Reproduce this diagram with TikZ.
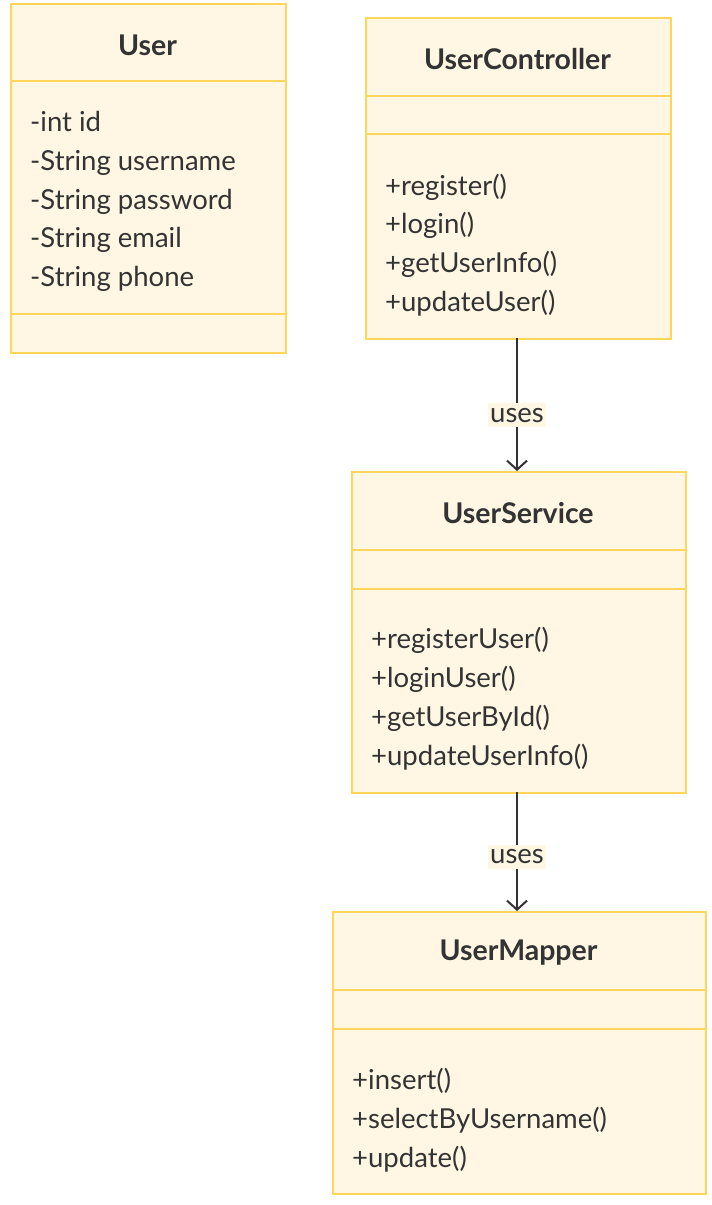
\documentclass[tikz,border=0pt]{standalone}
\usepackage{fontspec}
\setmainfont{Lato}
\usetikzlibrary{arrows.meta}

\definecolor{boxfill}{HTML}{FFF7E3}
\definecolor{boxline}{HTML}{FFD55A}
\definecolor{ink}{HTML}{333333}

\begin{document}
\begin{tikzpicture}[x=1pt, y=-1pt, text=ink,
  font=\fontsize{27.5}{38.8}\selectfont,
  part/.style={draw=boxline, fill=boxfill, line width=1.6pt, rectangle,
    inner sep=0, anchor=north west},
  title/.style={font=\fontsize{28.5}{32}\selectfont\bfseries},
  members/.style={anchor=west, align=left, inner sep=0},
  uses/.style={draw=ink, line width=1.8pt, -{Straight Barb[length=9pt, width=20pt, line width=2pt]}},
  tag/.style={fill=boxfill, inner xsep=2pt, inner ysep=5pt}]

\useasboundingbox (0,0) rectangle (712,1205);

% ---- User ----
\node[part, minimum width=275pt, minimum height=77pt]  (user-name) at (10,3)   {};
\node[part, minimum width=275pt, minimum height=233pt] (user-attr) at (10,80)  {};
\node[part, minimum width=275pt, minimum height=39pt]  (user-ops)  at (10,313) {};
\node[title] (user-title) at (147.5,45) {User};
\node[members] (user-list) at (30,201.5)
  {-int id\\-String username\\-String password\\-String email\\-String phone};

% ---- UserController ----
\node[part, minimum width=305pt, minimum height=78pt]  (ctrl-name) at (365,17)  {};
\node[part, minimum width=305pt, minimum height=38pt]  (ctrl-attr) at (365,95)  {};
\node[part, minimum width=305pt, minimum height=205pt] (ctrl-ops)  at (365,133) {};
\node[title] (ctrl-title) at (517.5,59) {UserController};
\node[members] (ctrl-list) at (385,245)
  {+register()\\+login()\\+getUserInfo()\\+updateUser()};

% ---- UserService ----
\node[part, minimum width=334pt, minimum height=78pt]  (svc-name) at (351,471) {};
\node[part, minimum width=334pt, minimum height=39pt]  (svc-attr) at (351,549) {};
\node[part, minimum width=334pt, minimum height=204pt] (svc-ops)  at (351,588) {};
\node[title] (svc-title) at (518,513) {UserService};
\node[members] (svc-list) at (371,698.5)
  {+registerUser()\\+loginUser()\\+getUserById()\\+updateUserInfo()};

% ---- UserMapper ----
\node[part, minimum width=373pt, minimum height=78pt]  (map-name) at (332,911)  {};
\node[part, minimum width=373pt, minimum height=39pt]  (map-attr) at (332,989)  {};
\node[part, minimum width=373pt, minimum height=165pt] (map-ops)  at (332,1028) {};
\node[title] (map-title) at (518.5,953) {UserMapper};
\node[members] (map-list) at (352,1120)
  {+insert()\\+selectByUsername()\\+update()};

% ---- dependencies ----
\coordinate (ctrl-out) at (517,338);
\coordinate (svc-in)   at (517,471);
\coordinate (svc-out)  at (517,792);
\coordinate (map-in)   at (517,911);
\draw[uses] (ctrl-out) -- node[tag, pos=0.58] (uses-1) {uses} (svc-in);
\draw[uses] (svc-out)  -- node[tag, pos=0.545] (uses-2) {uses} (map-in);

\end{tikzpicture}
\end{document}
